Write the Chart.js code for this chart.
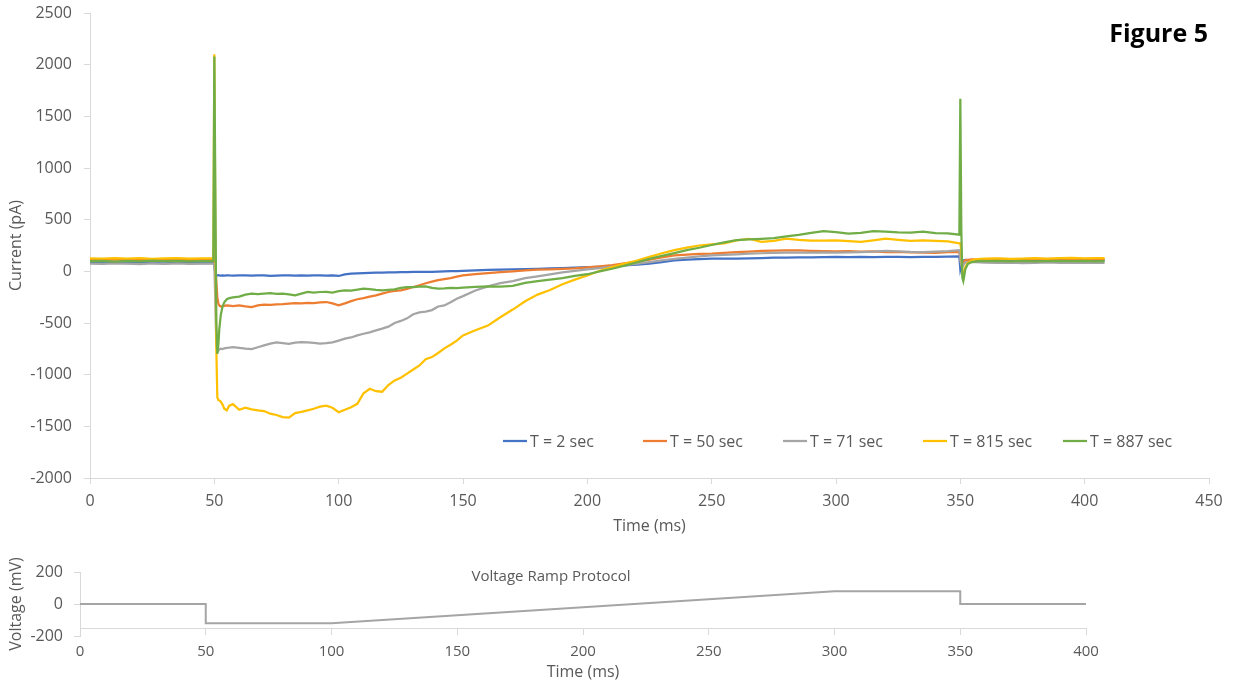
<!DOCTYPE html>
<html>
<head>
<meta charset="utf-8">
<title>Figure 5</title>
<script src="https://cdn.jsdelivr.net/npm/chart.js@4.4.1/dist/chart.umd.min.js"></script>
<style>
  html, body { margin: 0; padding: 0; background: #fff; overflow: hidden; width: 1233px; height: 682px; }
  #currentWrap { position: absolute; left: 0; top: 0; width: 1233px; height: 545px; }
  #voltageWrap { position: absolute; left: 0; top: 548px; width: 1233px; height: 150px; }
</style>
</head>
<body>
<div id="currentWrap"><canvas id="current" width="1233" height="545"></canvas></div>
<div id="voltageWrap"><canvas id="voltage" width="1233" height="150"></canvas></div>
<script>
// ---- Sample times (ms), shared by all current traces ----
const timeMs = [
  0, 5, 10, 15, 20, 25, 30, 35, 40, 45, 49.6,
  50, 50.4, 50.8, 51.2, 51.6, 52, 52.6, 53.3, 54, 55, 56, 57.5,
  60, 62.5, 65, 67.5, 70, 72.5, 75, 77.5, 80, 82.5, 85, 87.5, 90, 92.5, 95, 97.5,
  100, 102.5, 105, 107.5, 110, 112.5, 115, 117.5, 120, 122.5, 125, 127.5, 130, 132.5, 135, 137.5, 140, 142.5, 145, 147.5,
  150, 155, 160, 165, 170, 175, 180, 185, 190, 195,
  200, 205, 210, 215, 220, 225, 230, 235, 240, 245,
  250, 255, 260, 265, 270, 275, 280, 285, 290, 295,
  300, 305, 310, 315, 320, 325, 330, 335, 340, 345, 349.6,
  350, 350.4, 350.8, 351.2, 351.6, 352, 353, 354.5, 356, 358,
  360, 365, 370, 375, 380, 385, 390, 395, 400, 404, 408
];

// ---- Membrane current (pA) for each recording time ----
const currentT2 = [
  82, 80, 84, 79, 83, 81, 78, 84, 80, 82, 80,
  60, -20, -38, -40, -38, -40, -42, -39, -41, -38, -40, -42,
  -40, -38, -42, -40, -39, -43, -41, -40, -38, -42, -40, -41, -39, -40, -42, -40,
  -45, -30, -23, -20, -18, -16, -13, -12, -10, -9, -8, -7, -6, -5, -6, -5, -3, 0, 2, 3,
  5, 10, 14, 16, 18, 22, 25, 28, 32, 36,
  40, 44, 50, 58, 65, 74, 90, 105, 114, 118,
  122, 124, 123, 126, 128, 132, 133, 135, 134, 137,
  139, 138, 140, 137, 141, 139, 138, 140, 141, 142, 145,
  20, 60, 95, 105, 108, 110, 108, 106, 105, 106,
  104, 106, 103, 105, 107, 104, 106, 105, 107, 106, 105
];
const currentT50 = [
  112, 108, 115, 110, 113, 109, 114, 111, 108, 112, 110,
  110, 40, -100, -250, -310, -330, -340, -338, -335, -330, -332, -336,
  -330, -340, -346, -330, -323, -325, -320, -318, -312, -307, -310, -305, -307, -300, -297, -310,
  -329, -310, -288, -270, -259, -245, -233, -215, -200, -190, -184, -170, -152, -135, -115, -100, -85, -75, -65, -52,
  -40, -28, -18, -8, 0, 10, 16, 20, 24, 28,
  38, 48, 60, 78, 95, 113, 135, 155, 162, 168,
  171, 178, 185, 190, 197, 200, 204, 202, 198, 196,
  194, 196, 190, 192, 187, 189, 184, 182, 178, 185, 187,
  120, 80, 70, 90, 100, 108, 112, 115, 116, 118,
  118, 120, 117, 119, 121, 118, 120, 122, 119, 121, 119
];
const currentT71 = [
  75, 72, 78, 74, 70, 76, 73, 77, 72, 75, 74,
  74, -300, -700, -782, -770, -755, -749, -752, -745, -740, -738, -733,
  -740, -748, -752, -735, -717, -700, -688, -695, -701, -690, -685, -688, -692, -700, -695, -688,
  -670, -652, -640, -620, -604, -590, -572, -555, -535, -500, -480, -455, -415, -398, -390, -375, -340, -330, -300, -265,
  -240, -185, -145, -115, -95, -65, -48, -30, -10, 5,
  18, 30, 45, 58, 75, 90, 105, 120, 132, 145,
  155, 160, 165, 171, 175, 178, 181, 180, 182, 184,
  181, 183, 186, 190, 197, 192, 188, 187, 190, 195, 204,
  110, 60, 40, 60, 75, 85, 90, 92, 88, 86,
  85, 82, 84, 80, 83, 86, 82, 84, 81, 83, 82
];
const currentT815 = [
  125, 122, 128, 124, 127, 121, 126, 129, 123, 126, 125,
  2100, 400, -750, -1218, -1245, -1250, -1262, -1290, -1330, -1345, -1300, -1285,
  -1340, -1320, -1335, -1345, -1352, -1378, -1390, -1410, -1415, -1372, -1360, -1345, -1330, -1310, -1300, -1320,
  -1363, -1340, -1315, -1282, -1180, -1137, -1160, -1165, -1100, -1056, -1030, -990, -950, -911, -850, -830, -790, -745, -710, -670,
  -620, -570, -525, -445, -370, -290, -225, -180, -125, -80,
  -40, 5, 40, 75, 105, 140, 175, 205, 230, 250,
  262, 270, 300, 315, 285, 295, 317, 305, 296, 298,
  300, 292, 284, 300, 317, 305, 294, 300, 295, 290, 270,
  270, 200, -20, -39, 0, 40, 80, 105, 115, 120,
  122, 125, 120, 124, 127, 123, 128, 130, 126, 128, 127
];
const currentT887 = [
  98, 100, 95, 102, 97, 104, 99, 101, 96, 100, 100,
  2080, 800, -500, -798, -720, -560, -420, -340, -300, -270, -260, -252,
  -245, -225, -216, -220, -216, -212, -218, -216, -222, -233, -215, -200, -205, -200, -198, -205,
  -192, -184, -186, -178, -168, -172, -180, -184, -180, -175, -160, -152, -152, -148, -145, -160, -168, -165, -160, -162,
  -158, -150, -145, -148, -140, -112, -95, -80, -65, -45,
  -28, 0, 25, 55, 88, 120, 150, 177, 205, 228,
  255, 280, 302, 310, 315, 322, 338, 352, 372, 388,
  380, 365, 372, 390, 385, 378, 375, 385, 370, 368, 355,
  1670, 400, -60, -94, -40, 20, 70, 90, 95, 100,
  98, 102, 96, 100, 97, 99, 101, 98, 100, 96, 99
];

const seriesLabels = ['T = 2 sec', 'T = 50 sec', 'T = 71 sec', 'T = 815 sec', 'T = 887 sec'];
const seriesColors = ['#4472C4', '#ED7D31', '#A5A5A5', '#FFC000', '#70AD47'];
const seriesValues = [currentT2, currentT50, currentT71, currentT815, currentT887];

// ---- Voltage command protocol ----
const protocolTimeMs = [0, 50, 50, 100, 300, 350, 350, 400];
const protocolVoltageMv = [0, 0, -120, -120, 80, 80, 0, 0];

// ---- Tick values ----
const currentTicks = [-2000, -1500, -1000, -500, 0, 500, 1000, 1500, 2000, 2500];
const timeTicks = [0, 50, 100, 150, 200, 250, 300, 350, 400, 450];
const protocolTimeTicks = [0, 50, 100, 150, 200, 250, 300, 350, 400];
const voltageTicks = [-200, 0, 200];

const FONT = "'Open Sans', 'DejaVu Sans', sans-serif";
const TEXT_GREY = '#595959';
const AXIS_GREY = '#d9d9d9';

const toPoints = (xs, ys) => xs.map((x, i) => ({ x: x, y: ys[i] }));
const fixedTicks = (vals) => (scale) => { scale.ticks = vals.map(v => ({ value: v })); };
const plainNumber = (v) => String(v);

// Legend drawn inside the plot area, along its lower edge
const insideLegend = {
  id: 'insideLegend',
  afterDatasetsDraw(chart) {
    const { ctx, chartArea } = chart;
    ctx.save();
    ctx.font = '16px ' + FONT;
    ctx.textBaseline = 'middle';
    ctx.textAlign = 'left';
    chart.data.datasets.forEach((ds, i) => {
      const x0 = chartArea.left + 413 + i * 140;
      const y = chartArea.bottom - 37;
      ctx.strokeStyle = ds.borderColor;
      ctx.lineWidth = 2.25;
      ctx.beginPath();
      ctx.moveTo(x0, y);
      ctx.lineTo(x0 + 24, y);
      ctx.stroke();
      ctx.fillStyle = TEXT_GREY;
      ctx.fillText(ds.label, x0 + 27, y + 1);
    });
    ctx.restore();
  }
};

// Figure caption in the top-right corner
const figureCaption = {
  id: 'figureCaption',
  afterDraw(chart) {
    const { ctx, chartArea } = chart;
    ctx.save();
    ctx.font = 'bold 25px ' + FONT;
    ctx.fillStyle = '#000000';
    ctx.textAlign = 'right';
    ctx.textBaseline = 'alphabetic';
    ctx.fillText('Figure 5', chartArea.right - 1, chartArea.top + 29);
    ctx.restore();
  }
};

// Caption for the protocol panel
const protocolCaption = {
  id: 'protocolCaption',
  afterDraw(chart) {
    const { ctx, chartArea } = chart;
    ctx.save();
    ctx.font = '15px ' + FONT;
    ctx.fillStyle = TEXT_GREY;
    ctx.textAlign = 'center';
    ctx.textBaseline = 'middle';
    ctx.fillText('Voltage Ramp Protocol', chartArea.left + 471, chartArea.top + 5);
    ctx.restore();
  }
};

// ---- Current traces ----
const drawOrder = [5, 4, 3, 2, 1]; // later recordings painted on top
new Chart(document.getElementById('current'), {
  type: 'line',
  data: {
    datasets: seriesValues.map((vals, i) => ({
      label: seriesLabels[i],
      data: toPoints(timeMs, vals),
      borderColor: seriesColors[i],
      backgroundColor: seriesColors[i],
      borderWidth: 2.25,
      pointRadius: 0,
      tension: 0,
      fill: false,
      order: drawOrder[i]
    }))
  },
  options: {
    responsive: false,
    animation: false,
    devicePixelRatio: 1,
    layout: { padding: { top: 13, right: 24, left: 0, bottom: 0 } },
    plugins: { legend: { display: false }, tooltip: { enabled: false } },
    scales: {
      x: {
        type: 'linear',
        min: 0,
        max: 450,
        afterBuildTicks: fixedTicks(timeTicks),
        afterFit: (s) => { s.height = 67; },
        grid: { drawOnChartArea: false, drawTicks: true, tickLength: 6, color: AXIS_GREY },
        border: { color: AXIS_GREY, width: 1 },
        ticks: { color: TEXT_GREY, font: { family: FONT, size: 16 }, padding: 8, maxRotation: 0, callback: plainNumber },
        title: { display: true, text: 'Time (ms)', color: TEXT_GREY, font: { family: FONT, size: 16 }, padding: { top: 0, bottom: 9 } }
      },
      y: {
        type: 'linear',
        min: -2000,
        max: 2500,
        afterBuildTicks: fixedTicks(currentTicks),
        afterFit: (s) => { s.width = 90; s.paddingTop = 0; s.paddingBottom = 0; },
        grid: { drawOnChartArea: false, drawTicks: true, tickLength: 6, color: AXIS_GREY },
        border: { color: AXIS_GREY, width: 1 },
        ticks: { color: TEXT_GREY, font: { family: FONT, size: 16 }, padding: 12, callback: plainNumber },
        title: { display: true, text: 'Current (pA)', color: TEXT_GREY, font: { family: FONT, size: 16 }, padding: { top: 7, bottom: 0 } }
      }
    }
  },
  plugins: [insideLegend, figureCaption]
});

// ---- Voltage protocol ----
new Chart(document.getElementById('voltage'), {
  type: 'line',
  data: {
    datasets: [{
      label: 'Voltage Ramp Protocol',
      data: toPoints(protocolTimeMs, protocolVoltageMv),
      borderColor: '#A5A5A5',
      borderWidth: 2,
      pointRadius: 0,
      tension: 0,
      fill: false
    }]
  },
  options: {
    responsive: false,
    animation: false,
    devicePixelRatio: 1,
    layout: { padding: { top: 24, right: 147, left: 0, bottom: 62 } },
    plugins: { legend: { display: false }, tooltip: { enabled: false } },
    scales: {
      x: {
        type: 'linear',
        position: { y: -150 },
        min: 0,
        max: 400,
        afterBuildTicks: fixedTicks(protocolTimeTicks),
        afterFit: (s) => { s.height = 62; },
        grid: { drawOnChartArea: false, drawTicks: true, tickLength: 6, color: AXIS_GREY },
        border: { color: AXIS_GREY, width: 1 },
        ticks: { color: TEXT_GREY, font: { family: FONT, size: 15 }, padding: 9, maxRotation: 0, callback: plainNumber },
        title: { display: true, text: 'Time (ms)', color: TEXT_GREY, font: { family: FONT, size: 16 }, padding: { top: 0, bottom: 8 } }
      },
      y: {
        type: 'linear',
        min: -200,
        max: 200,
        afterBuildTicks: fixedTicks(voltageTicks),
        afterFit: (s) => { s.width = 80; },
        grid: { drawOnChartArea: false, drawTicks: true, tickLength: 6, color: AXIS_GREY },
        border: { color: AXIS_GREY, width: 1 },
        ticks: { color: TEXT_GREY, font: { family: FONT, size: 16 }, padding: 11, callback: plainNumber },
        title: { display: true, text: 'Voltage (mV)', color: TEXT_GREY, font: { family: FONT, size: 16 }, padding: { top: 7, bottom: 0 } }
      }
    }
  },
  plugins: [protocolCaption]
});
</script>
</body>
</html>
